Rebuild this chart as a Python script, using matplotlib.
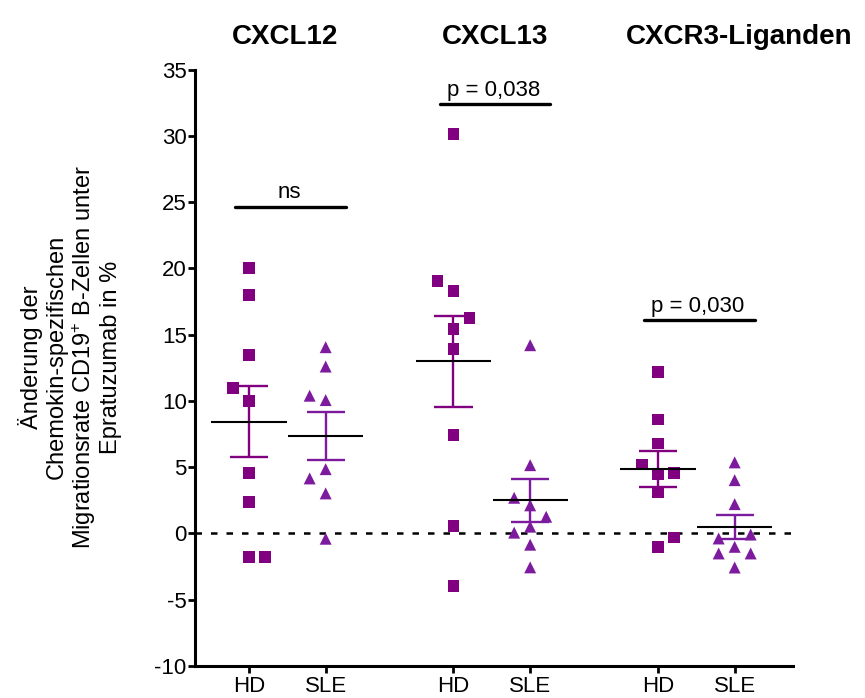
import numpy as np
import matplotlib
matplotlib.use("Agg")
import matplotlib.pyplot as plt
from matplotlib import font_manager

# ---- data -----------------------------------------------------------------
chemokines = ["CXCL12", "CXCL13", "CXCR3-Liganden"]
groups = ["HD", "SLE"]

# change of chemokine-specific migration rate (%), per donor
cxcl12_hd = [20.0, 18.0, 9.98, 13.46, 10.99, -1.76, 4.58, -1.76, 2.39]
cxcl12_sle = [14.05, 12.59, 10.06, 4.85, 10.39, 3.02, 4.15, -0.40]
cxcl13_hd = [30.14, 18.31, 15.40, 13.89, 19.03, 16.23, 7.44, 0.58, -3.96]
cxcl13_sle = [14.20, 5.15, 2.12, 0.51, 2.69, 1.26, 0.06, -0.85, -2.56]
cxcr3_hd = [12.20, 8.60, 6.79, 4.45, 5.21, 4.58, -1.01, -0.30, 3.09]
cxcr3_sle = [5.36, 4.02, 2.21, -1.01, -2.57, -0.08, -0.38, -1.51, -1.51]

series = [(cxcl12_hd, cxcl12_sle), (cxcl13_hd, cxcl13_sle), (cxcr3_hd, cxcr3_sle)]

# significance annotations: label and bar height
sig_labels = ["ns", "p = 0,038", "p = 0,030"]
sig_heights = [24.65, 32.39, 16.1]

y_ticks = list(range(-10, 36, 5))

# ---- style ----------------------------------------------------------------
names = {f.name for f in font_manager.fontManager.ttflist}
base_font = "Liberation Sans" if "Liberation Sans" in names else "DejaVu Sans"
narrow_font = "Liberation Sans Narrow" if "Liberation Sans Narrow" in names else base_font
plt.rcParams["font.family"] = [base_font, "DejaVu Sans"]
plt.rcParams["mathtext.fontset"] = "custom"
plt.rcParams["mathtext.rm"] = base_font
plt.rcParams["mathtext.it"] = base_font + ":italic"

HD_COLOR = "#800080"
SLE_COLOR = "#7d1b9e"
colors = [HD_COLOR, SLE_COLOR]
markers = ["s", "^"]
marker_pt = [8.4, 8.6]

W, H = 865, 698
fig = plt.figure(figsize=(W / 100, H / 100), dpi=100)
ax = fig.add_axes([195 / W, 32 / H, (792.7 - 195) / W, (666 - 69.5) / H])

group_gap = 8 / 3
ax.set_xlim(-0.704, 7.09)
ax.set_ylim(-10, 35)

for s in ["top", "right"]:
    ax.spines[s].set_visible(False)
for s in ["left", "bottom"]:
    ax.spines[s].set_linewidth(2.2)

ax.set_yticks(y_ticks)
ax.set_yticklabels([str(t) for t in y_ticks])
ax.tick_params(axis="y", length=5, width=2, pad=1, labelsize=16)

xpos = []
xlab = []
for gi in range(len(chemokines)):
    for k, g in enumerate(groups):
        xpos.append(gi * group_gap + k)
        xlab.append(g)
ax.set_xticks(xpos)
ax.set_xticklabels(xlab)
ax.tick_params(axis="x", length=5, width=2, pad=2, labelsize=16)

# zero reference line
ax.axhline(0, color="black", lw=1.8, linestyle=(0, (2.6, 3.6)), zorder=1)


def swarm(x0, values, marker_px=14.2, step_px=16.0):
    """Spread overlapping points sideways, in input order, in display space."""
    to_disp = ax.transData
    cx = to_disp.transform((x0, 0))[0]
    placed = []
    out = []
    for i, v in enumerate(values):
        vy = to_disp.transform((x0, v))[1]
        first = -1 if i % 2 == 0 else 1
        for lane in (0, first, -first, 2 * first, -2 * first):
            px = cx + lane * step_px
            if all(np.hypot(px - qx, vy - qy) >= marker_px for qx, qy in placed):
                break
        placed.append((px, vy))
        out.append(to_disp.inverted().transform((px, vy))[0])
    return out


for gi, pair in enumerate(series):
    for k, vals in enumerate(pair):
        x0 = gi * group_gap + k
        xs = swarm(x0, vals)
        ax.scatter(xs, vals, marker=markers[k], s=marker_pt[k] ** 2,
                   color=colors[k], edgecolors="none", zorder=3)
        arr = np.asarray(vals)
        mean = arr.mean()
        sem = arr.std(ddof=1) / np.sqrt(arr.size)
        # SEM whiskers and caps
        ax.plot([x0, x0], [mean - sem, mean + sem], color=colors[k], lw=1.7,
                solid_capstyle="butt", zorder=4)
        for yv in (mean - sem, mean + sem):
            ax.plot([x0 - 0.25, x0 + 0.25], [yv, yv], color=colors[k], lw=1.7,
                    solid_capstyle="butt", zorder=4)
        # mean line
        ax.plot([x0 - 0.49, x0 + 0.49], [mean, mean], color="black", lw=1.5,
                solid_capstyle="butt", zorder=5)

    # significance bar
    xa = gi * group_gap
    ax.plot([xa - 0.18, xa + 1.26], [sig_heights[gi]] * 2, color="black",
            lw=2.4, solid_capstyle="round", zorder=5)
    ax.annotate(sig_labels[gi], xy=(xa + 0.52, sig_heights[gi]), xytext=(0, 6),
                textcoords="offset points", ha="center", va="baseline",
                fontsize=16)

# chemokine headers
title_x = [284.9, 494.7, 739.0]
for name, tx in zip(chemokines, title_x):
    fig.text(tx / W, 1 - 43.7 / H, name, ha="center", va="baseline",
             fontsize=24 if narrow_font != base_font else 20,
             fontweight="bold", family=narrow_font)

fig.text(70 / W, 1 - 357 / H,
         "Änderung der\nChemokin-spezifischen\n"
         r"Migrationsrate CD19$^{+}$ B-Zellen unter" "\nEpratuzumab in %",
         rotation=90, ha="center", va="center", multialignment="center",
         fontsize=17, linespacing=1.12)

fig.savefig("out.png", dpi=100)
